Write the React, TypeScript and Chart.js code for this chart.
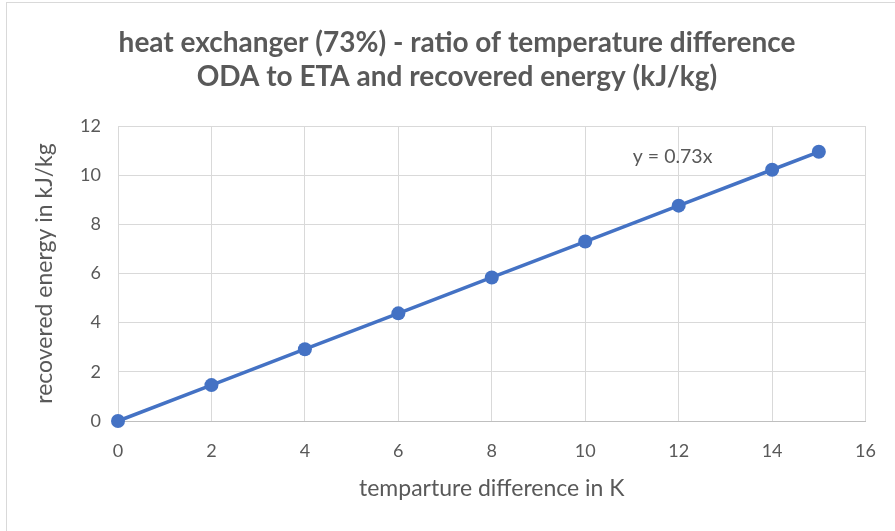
import React, { useEffect, useRef } from "react";
import { Chart, registerables } from "chart.js";

Chart.register(...registerables);

// ---- data ----
const tempDiff = [0, 2, 4, 6, 8, 10, 12, 14, 15];
const recoveredEnergy = [0, 1.46, 2.92, 4.38, 5.84, 7.3, 8.76, 10.22, 10.95];
const titleLines = [
  "heat exchanger (73%) - ratio of temperature difference",
  "ODA to ETA and recovered energy (kJ/kg)",
];
const xAxisTitle = "temparture difference in K";
const yAxisTitle = "recovered energy in kJ/kg";
const trendLabel = "y = 0.73x";
const trendLabelX = [11.87];
const trendLabelY = [10.75];
const xRange = [0, 16];
const yRange = [0, 12];

const FONT = "Lato, 'Open Sans', sans-serif";
const TEXT = "#595959";
const GRID = "#d9d9d9";

const frame = {
  id: "frame",
  beforeDraw(chart: any) {
    const { ctx } = chart;
    ctx.save();
    ctx.fillStyle = "#ffffff";
    ctx.fillRect(0, 0, chart.width, chart.height);
    ctx.strokeStyle = GRID;
    ctx.lineWidth = 1;
    ctx.strokeRect(6.5, 2.5, 2000, 2000);
    ctx.restore();
  },
  afterDraw(chart: any) {
    const { ctx } = chart;
    ctx.save();
    ctx.font = `bold 28px ${FONT}`;
    ctx.fillStyle = TEXT;
    ctx.textAlign = "center";
    ctx.textBaseline = "middle";
    ctx.fillText(titleLines[0], 457, 43);
    ctx.fillText(titleLines[1], 457, 77);
    ctx.restore();
  },
};

const trend = {
  id: "trend",
  afterDatasetsDraw(chart: any) {
    const { ctx, scales } = chart;
    const x = scales.x.getPixelForValue(trendLabelX[0]);
    const y = scales.y.getPixelForValue(trendLabelY[0]);
    ctx.save();
    ctx.font = `19.5px ${FONT}`;
    ctx.fillStyle = TEXT;
    ctx.textAlign = "center";
    ctx.textBaseline = "middle";
    ctx.fillText(trendLabel, x, y);
    ctx.restore();
  },
};

export default function App() {
  const ref = useRef<HTMLCanvasElement | null>(null);
  useEffect(() => {
    if (!ref.current) return;
    const chart = new Chart(ref.current, {
      type: "scatter",
      data: {
        datasets: [
          {
            data: tempDiff.map((x, i) => ({ x, y: recoveredEnergy[i] })),
            showLine: true,
            clip: false,
            borderColor: "#4472C4",
            backgroundColor: "#4472C4",
            borderWidth: 3.5,
            pointRadius: 7,
            pointBorderWidth: 0,
          },
        ],
      },
      options: {
        responsive: false,
        animation: false,
        layout: { padding: { left: 0, right: 29, top: 126, bottom: 0 } },
        plugins: {
          legend: { display: false },
          tooltip: { enabled: false },
          title: { display: false },
        },
        scales: {
          x: {
            type: "linear",
            min: xRange[0],
            max: xRange[1],
            ticks: { stepSize: 2, color: TEXT, font: { family: FONT, size: 18 }, padding: 19, maxRotation: 0 },
            grid: { color: GRID, drawTicks: false },
            border: { color: "#bfbfbf" },
            title: {
              display: true,
              text: xAxisTitle,
              color: TEXT,
              font: { family: FONT, size: 23 },
              padding: { top: 0, bottom: 29 },
            },
            afterFit(scale: any) {
              scale.height = 110;
            },
          },
          y: {
            min: yRange[0],
            max: yRange[1],
            ticks: { stepSize: 2, color: TEXT, font: { family: FONT, size: 18 }, padding: 17 },
            grid: { color: GRID, drawTicks: false },
            border: { color: GRID },
            title: {
              display: true,
              text: yAxisTitle,
              color: TEXT,
              font: { family: FONT, size: 23 },
              padding: { top: 31, bottom: 0 },
            },
            afterFit(scale: any) {
              scale.width = 118;
            },
          },
        },
      },
      plugins: [frame, trend],
    });
    return () => chart.destroy();
  }, []);
  return (
    <div style={{ position: "fixed", left: 0, top: 0, width: 895, height: 531 }}>
      <canvas ref={ref} width={895} height={531} />
    </div>
  );
}
